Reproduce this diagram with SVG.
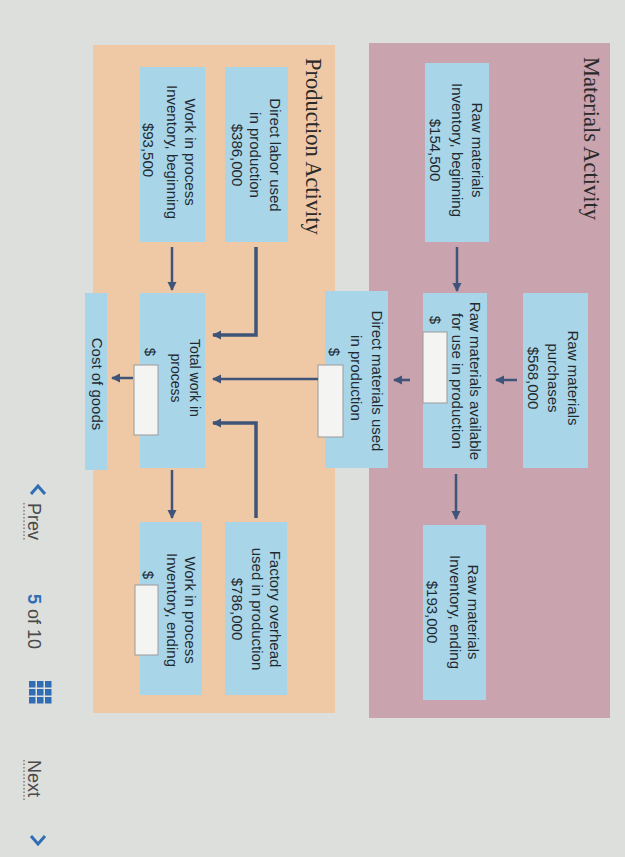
<svg xmlns="http://www.w3.org/2000/svg" width="625" height="857" viewBox="0 0 625 857">
  <defs>
    <marker id="ah" markerUnits="userSpaceOnUse" markerWidth="10" markerHeight="10" refX="8" refY="4.5" orient="auto">
      <path d="M0,0 L9,4.5 L0,9 z" fill="#3f5478"/>
    </marker>
    <style>
      .panelM { fill: #c9a3ad; }
      .panelP { fill: #efc9a6; }
      .box { fill: #a9d5e8; }
      .inp { fill: #f4f5f2; stroke: #9a9a9a; stroke-width: 1; }
      .t { font-family: "Liberation Sans", Arial, sans-serif; font-size: 15px; fill: #1f2a30; text-anchor: middle; }
      .title { font-family: "Liberation Serif", "Times New Roman", serif; font-size: 22.5px; fill: #2a2a2a; }
      .nav { font-family: "Liberation Sans", Arial, sans-serif; font-size: 18px; fill: #4a4a4a; }
      .blue { fill: #2f6db5; }
      .conn { fill: none; stroke: #3f5478; stroke-width: 2.5; }
      .connB { fill: none; stroke: #3f5478; stroke-width: 3.5; }
    </style>
  </defs>

  <!-- page background -->
  <rect x="0" y="0" width="625" height="857" fill="#dcdfdc"/>

  <!-- panels -->
  <g id="materials-panel">
    <rect class="panelM" x="369" y="43" width="241" height="675"/>
    <text class="title" transform="translate(584,57) rotate(90)">Materials Activity</text>
  </g>
  <g id="production-panel">
    <rect class="panelP" x="93" y="45" width="242" height="668"/>
    <text class="title" transform="translate(306,58) rotate(90)">Production Activity</text>
  </g>

  <!-- Materials nodes -->
  <g id="rm-beginning">
    <rect class="box" x="425" y="63" width="64" height="179"/>
    <text class="t" transform="translate(472,150) rotate(90)">Raw materials</text>
    <text class="t" transform="translate(452,150) rotate(90)">Inventory, beginning</text>
    <text class="t" transform="translate(430,150) rotate(90)">$154,500</text>
  </g>
  <g id="rm-purchases">
    <rect class="box" x="523" y="293" width="65" height="175"/>
    <text class="t" transform="translate(568,378) rotate(90)">Raw materials</text>
    <text class="t" transform="translate(548,378) rotate(90)">purchases</text>
    <text class="t" transform="translate(528,378) rotate(90)">$568,000</text>
  </g>
  <g id="rm-available">
    <rect class="box" x="423" y="293" width="64" height="175"/>
    <text class="t" transform="translate(470,381) rotate(90)">Raw materials available</text>
    <text class="t" transform="translate(452,381) rotate(90)">for use in production</text>
    <text class="t" transform="translate(430,320) rotate(90)">$</text>
    <rect class="inp" x="423" y="332" width="24" height="71"/>
  </g>
  <g id="rm-ending">
    <rect class="box" x="423" y="525" width="63" height="175"/>
    <text class="t" transform="translate(468,612) rotate(90)">Raw materials</text>
    <text class="t" transform="translate(450,612) rotate(90)">Inventory, ending</text>
    <text class="t" transform="translate(427,612) rotate(90)">$193,000</text>
  </g>
  <g id="dm-used">
    <rect class="box" x="325" y="291" width="63" height="177"/>
    <text class="t" transform="translate(372,381) rotate(90)">Direct materials used</text>
    <text class="t" transform="translate(351,378) rotate(90)">in production</text>
    <text class="t" transform="translate(329,352) rotate(90)">$</text>
    <rect class="inp" x="318" y="365" width="25" height="72"/>
  </g>

  <!-- Production nodes -->
  <g id="dl-used">
    <rect class="box" x="225" y="67" width="63" height="175"/>
    <text class="t" transform="translate(270,155) rotate(90)">Direct labor used</text>
    <text class="t" transform="translate(250,155) rotate(90)">in production</text>
    <text class="t" transform="translate(232,155) rotate(90)">$386,000</text>
  </g>
  <g id="wip-beginning">
    <rect class="box" x="140" y="67" width="65" height="175"/>
    <text class="t" transform="translate(185,152) rotate(90)">Work in process</text>
    <text class="t" transform="translate(167,152) rotate(90)">Inventory, beginning</text>
    <text class="t" transform="translate(143,150) rotate(90)">$93,500</text>
  </g>
  <g id="fo-used">
    <rect class="box" x="225" y="522" width="62" height="173"/>
    <text class="t" transform="translate(270,609) rotate(90)">Factory overhead</text>
    <text class="t" transform="translate(252,609) rotate(90)">used in production</text>
    <text class="t" transform="translate(232,609) rotate(90)">$786,000</text>
  </g>
  <g id="wip-ending">
    <rect class="box" x="140" y="522" width="62" height="173"/>
    <text class="t" transform="translate(185,610) rotate(90)">Work in process</text>
    <text class="t" transform="translate(167,610) rotate(90)">Inventory, ending</text>
    <text class="t" transform="translate(143,575) rotate(90)">$</text>
    <rect class="inp" x="135" y="585" width="23" height="70"/>
  </g>
  <g id="total-wip">
    <rect class="box" x="140" y="293" width="65" height="175"/>
    <text class="t" style="font-size:14px" transform="translate(190,378) rotate(90)">Total work in</text>
    <text class="t" style="font-size:14px" transform="translate(171,378) rotate(90)">process</text>
    <text class="t" transform="translate(145,352) rotate(90)">$</text>
    <rect class="inp" x="134" y="365" width="24" height="70"/>
  </g>
  <g id="cogm">
    <rect class="box" x="85" y="293" width="22" height="177"/>
    <text class="t" transform="translate(92,384) rotate(90)">Cost of goods</text>
  </g>

  <!-- connectors -->
  <g id="connectors">
    <path class="conn" d="M457,247 V291" marker-end="url(#ah)"/>
    <path class="conn" d="M517,380 H496" marker-end="url(#ah)"/>
    <path class="conn" d="M410,380 H394" marker-end="url(#ah)"/>
    <path class="conn" d="M456,474 V519" marker-end="url(#ah)"/>
    <path class="connB" d="M256,247 V335 H213" marker-end="url(#ah)"/>
    <path class="connB" d="M256,518 V423 H213" marker-end="url(#ah)"/>
    <path class="conn" d="M318,379 H213" marker-end="url(#ah)"/>
    <path class="conn" d="M172,247 V290" marker-end="url(#ah)"/>
    <path class="conn" d="M172,470 V518" marker-end="url(#ah)"/>
    <path class="conn" d="M133,378 H112" marker-end="url(#ah)"/>
  </g>

  <!-- navigation -->
  <g id="nav">
    <polyline points="31,494 38,486 45,494" fill="none" stroke="#2f6db5" stroke-width="3"/>
    <text class="nav" transform="translate(28,503) rotate(90)">Prev</text>
    <line x1="24" y1="503" x2="24" y2="541" stroke="#4a4a4a" stroke-width="1" stroke-dasharray="1.5,2"/>
    <text class="nav" transform="translate(28,594) rotate(90)"><tspan class="blue" font-weight="bold">5</tspan> of 10</text>
    <g fill="#2f6db5">
      <rect x="29" y="681" width="6.5" height="6.5"/><rect x="37" y="681" width="6.5" height="6.5"/><rect x="45" y="681" width="6.5" height="6.5"/>
      <rect x="29" y="689" width="6.5" height="6.5"/><rect x="37" y="689" width="6.5" height="6.5"/><rect x="45" y="689" width="6.5" height="6.5"/>
      <rect x="29" y="697" width="6.5" height="6.5"/><rect x="37" y="697" width="6.5" height="6.5"/><rect x="45" y="697" width="6.5" height="6.5"/>
    </g>
    <text class="nav" transform="translate(28,760) rotate(90)">Next</text>
    <line x1="24" y1="760" x2="24" y2="800" stroke="#4a4a4a" stroke-width="1" stroke-dasharray="1.5,2"/>
    <polyline points="31,836 38,844 45,836" fill="none" stroke="#2f6db5" stroke-width="3"/>
  </g>
</svg>
